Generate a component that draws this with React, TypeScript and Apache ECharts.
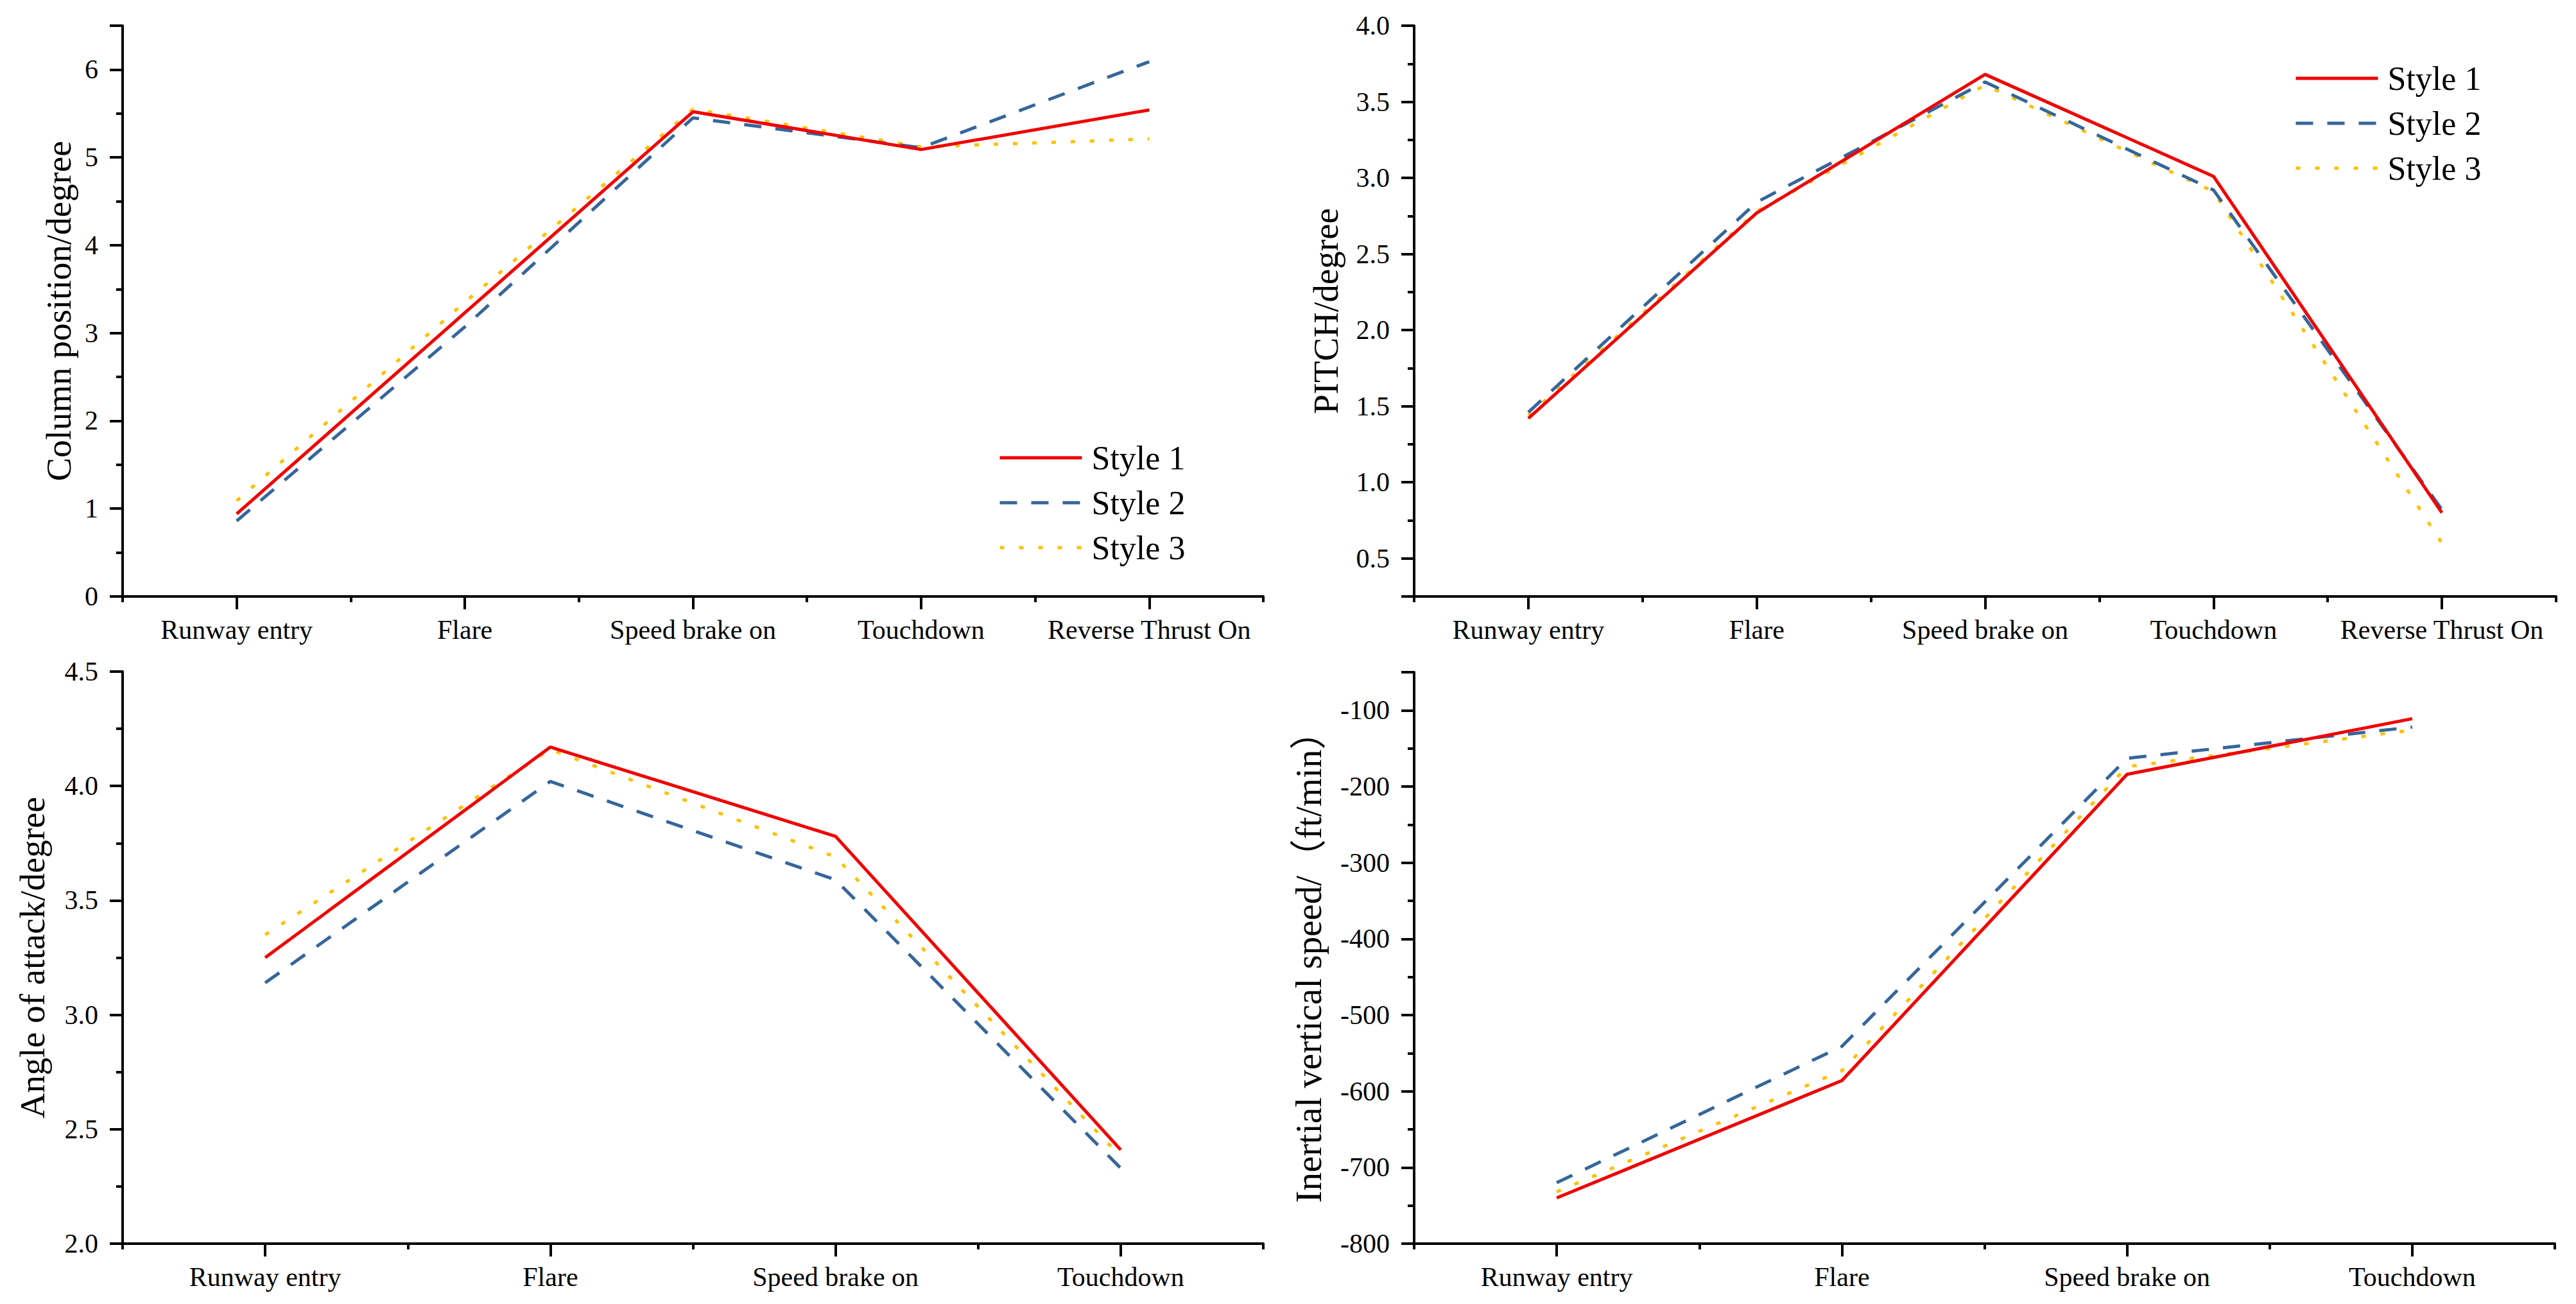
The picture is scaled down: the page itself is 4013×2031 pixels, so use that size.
import React, { useEffect, useRef } from "react";
import * as echarts from "echarts";

const catsTop = ["Runway entry", "Flare", "Speed brake on", "Touchdown", "Reverse Thrust On"];
const catsBottom = ["Runway entry", "Flare", "Speed brake on", "Touchdown"];
const styleNames = ["Style 1", "Style 2", "Style 3"];

const column1 = [0.94, 3.23, 5.52, 5.09, 5.54];
const column2 = [0.86, 3.07, 5.45, 5.11, 6.09];
const column3 = [1.09, 3.35, 5.55, 5.12, 5.21];

const pitch1 = [1.42, 2.77, 3.68, 3.01, 0.8];
const pitch2 = [1.46, 2.84, 3.63, 2.92, 0.82];
const pitch3 = [1.44, 2.78, 3.61, 2.91, 0.6];

const aoa1 = [3.25, 4.17, 3.78, 2.41];
const aoa2 = [3.14, 4.02, 3.59, 2.33];
const aoa3 = [3.35, 4.16, 3.69, 2.38];

const vs1 = [-740, -586, -184, -111];
const vs2 = [-720, -541, -163, -122];
const vs3 = [-732, -573, -174, -126];

const FONT = "'Liberation Serif', 'Times New Roman', 'Noto Sans CJK SC', serif";
const RED = "#F00000";
const BLUE = "#35669B";
const YELLOW = "#FFC000";

export default function App() {
  const ref = useRef<HTMLDivElement>(null);
  useEffect(() => {
    if (!ref.current) return;
    const chart = echarts.init(ref.current, undefined, { renderer: "svg" });

    const grids = [
      { left: 191, top: 40, width: 1777, height: 889 },
      { left: 2203, top: 40, width: 1779, height: 889 },
      { left: 191, top: 1046, width: 1777, height: 891 },
      { left: 2203, top: 1047, width: 1777, height: 890 },
    ];
    const panelCats = [catsTop, catsTop, catsBottom, catsBottom];
    const panelData = [
      [column1, column2, column3],
      [pitch1, pitch2, pitch3],
      [aoa1, aoa2, aoa3],
      [vs1, vs2, vs3],
    ];

    const xAxes: any[] = [];
    panelCats.forEach((cats, i) => {
      xAxes.push({
        type: "category",
        gridIndex: i,
        position: "bottom",
        data: cats,
        boundaryGap: true,
        axisLine: { show: true, lineStyle: { color: "#000", width: 4 } },
        axisTick: { show: true, alignWithLabel: true, interval: 0, length: 20, lineStyle: { color: "#000", width: 4 } },
        axisLabel: { show: true, interval: 0, color: "#000", fontFamily: FONT, fontSize: 42, margin: 31 },
        splitLine: { show: false },
      });
      xAxes.push({
        type: "category",
        gridIndex: i,
        position: "bottom",
        offset: 0,
        data: cats,
        boundaryGap: true,
        axisLine: { show: false },
        axisTick: { show: true, alignWithLabel: false, interval: 0, length: 9, lineStyle: { color: "#000", width: 4 } },
        axisLabel: { show: false },
        splitLine: { show: false },
      });
    });

    const yCommon = (i: number, extra: any) => ({
      type: "value",
      gridIndex: i,
      position: "left",
      nameLocation: "middle",
      nameRotate: 90,
      axisLine: { show: true, lineStyle: { color: "#000", width: 4 } },
      axisTick: { show: true, inside: false, length: 20, lineStyle: { color: "#000", width: 4 } },
      minorTick: { show: true, splitNumber: 2, length: 10, lineStyle: { color: "#000", width: 4 } },
      splitLine: { show: false },
      minorSplitLine: { show: false },
      ...extra,
      nameTextStyle: { color: "#000", fontFamily: FONT, fontSize: 55, ...(extra.nameTextStyle || {}) },
      axisLabel: { color: "#000", fontFamily: FONT, fontSize: 42, margin: 38, ...(extra.axisLabel || {}) },
    });

    const yAxes = [
      yCommon(0, {
        name: "Column position/degree",
        nameGap: 72,
        min: 0,
        max: 6.5,
        interval: 1,
        axisLabel: { showMaxLabel: false, formatter: (v: number) => String(v) },
      }),
      yCommon(1, {
        name: "PITCH/degree",
        nameGap: 110,
        min: 0.25,
        max: 4,
        splitNumber: 7,
        axisLabel: { showMinLabel: false, formatter: (v: number) => v.toFixed(1) },
      }),
      yCommon(2, {
        name: "Angle of attack/degree",
        nameGap: 113,
        min: 2,
        max: 4.5,
        interval: 0.5,
        axisLabel: { formatter: (v: number) => v.toFixed(1) },
      }),
      yCommon(3, {
        name: "Inertial vertical speed/（ft/min）",
        nameGap: 136,
        min: -800,
        max: -50,
        interval: 100,
        nameTextStyle: { fontSize: 57 },
        axisLabel: { showMaxLabel: false, formatter: (v: number) => String(v) },
      }),
    ];

    const styles = [
      { color: RED, type: "solid", z: 4 },
      { color: BLUE, type: [27, 22], z: 3 },
      { color: YELLOW, type: [7, 23], z: 2 },
    ];

    const series: any[] = [];
    panelData.forEach((sets, i) => {
      sets.forEach((vals, k) => {
        series.push({
          type: "line",
          name: styleNames[k],
          xAxisIndex: 2 * i,
          yAxisIndex: i,
          data: vals,
          symbol: "none",
          showSymbol: false,
          z: styles[k].z,
          itemStyle: { color: styles[k].color },
          lineStyle: { color: styles[k].color, width: 5, type: styles[k].type as any, cap: "butt" },
        });
      });
    });

    const legendCommon = {
      orient: "vertical",
      data: styleNames,
      itemWidth: 128,
      itemHeight: 20,
      itemGap: 18,
      selectedMode: false,
      itemStyle: { opacity: 0 },
      lineStyle: { width: 5 },
      textStyle: { color: "#000", fontFamily: FONT, fontSize: 52, padding: [0, 0, 0, 10] },
    };

    chart.setOption({
      animation: false,
      backgroundColor: "#fff",
      grid: grids,
      xAxis: xAxes,
      yAxis: yAxes,
      legend: [
        { ...legendCommon, left: 1550, top: 682 },
        { ...legendCommon, left: 3569, top: 91 },
      ],
      series,
    });

    return () => chart.dispose();
  }, []);

  return (
    <div
      ref={ref}
      style={{ position: "absolute", left: 0, top: 0, width: "4013px", height: "2031px", background: "#fff" }}
    />
  );
}
